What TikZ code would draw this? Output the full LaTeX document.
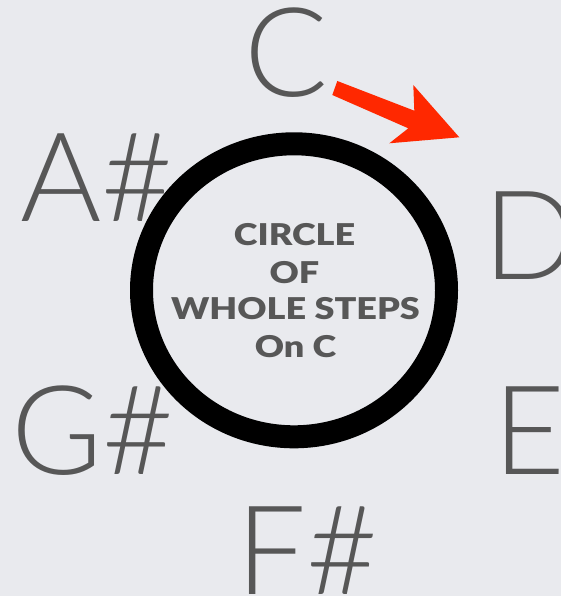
\documentclass[tikz,border=0pt]{standalone}
\usepackage{fontspec}
\usetikzlibrary{shapes.geometric}
\newfontfamily\notefont{Lato Light}
\newfontfamily\boldfont{Lato Black}[FakeStretch=1.2]
\definecolor{bg}{RGB}{233,234,238}
\definecolor{notegray}{RGB}{87,87,87}
\definecolor{arrowred}{RGB}{255,40,0}
\begin{document}
\begin{tikzpicture}[x=1pt,y=-1pt,
  note/.style={inner sep=0pt,anchor=base west,text=notegray,font=\notefont\fontsize{124}{124}\selectfont},
  title/.style={inner sep=0pt,anchor=base,text=notegray,font=\boldfont\fontsize{30}{30}\selectfont}]
\fill[bg] (0,0) rectangle (561,596);
\useasboundingbox (0,0) rectangle (561,596);
\node[draw=black,line width=23pt,ellipse,minimum width=305pt,minimum height=293pt,inner sep=0pt] (ring) at (294,290.3) {};
\node[note] (C) at (244,96.5) {C};
\node[note] (As) at (20,221) {A\#};
\node[note] (D) at (483,279) {D};
\node[note] (Gs) at (11,474) {G\#};
\node[note] (E) at (493,474) {E};
\node[note] (Fs) at (236,594) {F\#};
\node[title] (l1) at (294.5,245) {CIRCLE};
\node[title] (l2) at (294.5,283) {OF};
\node[title] (l3) at (295.5,319) {WHOLE STEPS};
\node[title] (l4) at (295.5,357) {On C};
\fill[arrowred] (337.3,81) -- (414.3,110.7) -- (413.3,85) -- (459.3,137.3) -- (389.3,143.3) -- (408.3,128.3) -- (332.3,95) -- cycle;
\end{tikzpicture}
\end{document}
